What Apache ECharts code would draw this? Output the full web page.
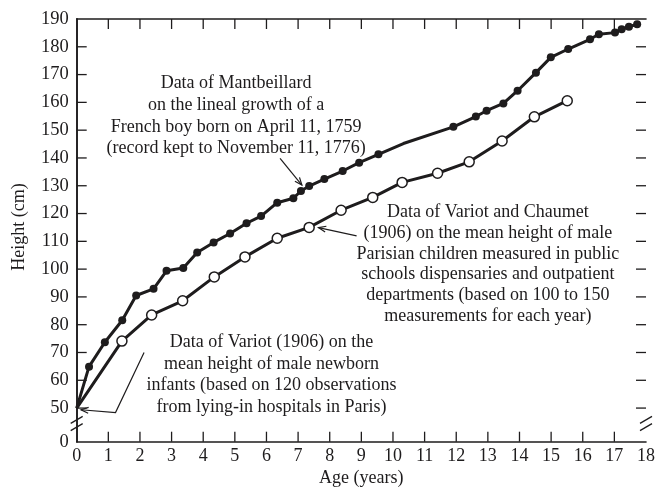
<!DOCTYPE html>
<html>
<head>
<meta charset="utf-8">
<script src="https://cdn.jsdelivr.net/npm/echarts@6/dist/echarts.min.js"></script>
<style>
  html, body { margin: 0; padding: 0; background: #fff; }
  #chart { width: 665px; height: 489px; }
</style>
</head>
<body>
<div id="chart"></div>
<script>
// Mantbeillard's record of his son's height (age in years, height in cm)
const mantAge = [0, 0.39, 0.89, 1.44, 1.88, 2.43, 2.84, 3.37, 3.81, 4.33, 4.85, 5.37, 5.83, 6.34, 6.85, 7.09, 7.35, 7.83, 8.41, 8.93, 9.54, 10.33, 11.91, 12.62, 12.96, 13.49, 13.94, 14.52, 14.99, 15.54, 16.23, 16.51, 17.02, 17.23, 17.46, 17.72];
const mantHeight = [50, 64.9, 73.7, 81.6, 90.5, 92.9, 99.4, 100.4, 106.0, 109.6, 112.8, 116.5, 119.1, 123.9, 125.5, 128.1, 129.9, 132.4, 135.3, 138.3, 141.3, 145.2, 151.2, 154.9, 157.0, 159.6, 164.2, 170.7, 176.2, 179.2, 182.7, 184.5, 185.1, 186.3, 187.2, 188.1];
// vertices of the Mantbeillard line that carry no dot
const mantUnmarked = [0, 21];

// Variot (newborn) and Variot & Chaumet (1906) mean heights
const variotAge = [0, 1.43, 2.37, 3.35, 4.35, 5.32, 6.34, 7.35, 8.36, 9.36, 10.29, 11.41, 12.41, 13.45, 14.47, 15.51];
const variotHeight = [50, 74.1, 83.5, 88.6, 97.2, 104.4, 111.1, 115.0, 121.2, 125.8, 131.2, 134.5, 138.6, 146.1, 154.8, 160.6];
const variotUnmarked = [0];

// axis ticks
const xTicks = [0, 1, 2, 3, 4, 5, 6, 7, 8, 9, 10, 11, 12, 13, 14, 15, 16, 17, 18];
const yTickValues = [50, 60, 70, 80, 90, 100, 110, 120, 130, 140, 150, 160, 170, 180, 190];
const yZeroLabel = '0';

// the broken y scale: "0" sits a short distance below 50
const Y_BOTTOM = 37.9;
const Y_TOP = 190;

const INK = '#1e1c1d';
const FONT = 'Liberation Serif, Times New Roman, serif';
const TICK_LEN = 10;

const chart = echarts.init(document.getElementById('chart'), null, { renderer: 'canvas' });

function pairs(xs, ys, unmarked) {
  return xs.map((x, i) => unmarked.indexOf(i) >= 0
    ? { value: [x, ys[i]], symbol: 'none' }
    : { value: [x, ys[i]] });
}

const lineStyleAxis = { show: true, lineStyle: { color: INK, width: 1.6 } };

chart.setOption({
  animation: false,
  backgroundColor: '#fff',
  grid: { left: 76.7, right: 19, top: 19, bottom: 47.3, containLabel: false },
  xAxis: [
    {
      type: 'value', position: 'bottom', min: 0, max: 18, interval: 1,
      axisLine: lineStyleAxis,
      axisTick: { show: false },
      splitLine: { show: false },
      axisLabel: { customValues: xTicks, margin: 6, color: INK, fontFamily: FONT, fontSize: 18 }
    },
    {
      type: 'value', position: 'top', min: 0, max: 18, interval: 1,
      axisLine: lineStyleAxis,
      axisTick: { show: false },
      splitLine: { show: false },
      axisLabel: { show: false }
    }
  ],
  yAxis: [
    {
      type: 'value', position: 'left', min: Y_BOTTOM, max: Y_TOP,
      axisLine: lineStyleAxis,
      axisTick: { show: false },
      splitLine: { show: false },
      axisLabel: {
        customValues: [Y_BOTTOM].concat(yTickValues),
        formatter: v => (v < 45 ? yZeroLabel : String(Math.round(v))),
        margin: 8, color: INK, fontFamily: FONT, fontSize: 18.5
      }
    },
    {
      type: 'value', position: 'right', min: Y_BOTTOM, max: Y_TOP,
      axisLine: lineStyleAxis,
      axisTick: { show: false },
      splitLine: { show: false },
      axisLabel: { show: false }
    }
  ],
  series: [
    {
      name: 'Variot and Chaumet',
      type: 'line',
      data: pairs(variotAge, variotHeight, variotUnmarked),
      symbol: 'circle', symbolSize: 10, showAllSymbol: true,
      lineStyle: { color: INK, width: 3 },
      itemStyle: { color: '#fff', borderColor: INK, borderWidth: 1.5 },
      z: 3
    },
    {
      name: 'Mantbeillard',
      type: 'line',
      data: pairs(mantAge, mantHeight, mantUnmarked),
      symbol: 'circle', symbolSize: 8, showAllSymbol: true,
      lineStyle: { color: INK, width: 3 },
      itemStyle: { color: INK, borderColor: INK, borderWidth: 0 },
      z: 4
    }
  ]
});

// Annotations, anchored in data coordinates
const toPx = (a, h) => chart.convertToPixel({ xAxisIndex: 0, yAxisIndex: 0 }, [a, h]);

function textBlock(age, height, lines, lineHeight, nudge) {
  const p = toPx(age, height);
  return {
    type: 'text', z: 10,
    style: {
      text: lines.join('\n'), x: p[0], y: p[1] - lineHeight / 2 + nudge,
      align: 'center', verticalAlign: 'top', lineHeight: lineHeight,
      font: '18px ' + FONT, fill: INK
    }
  };
}

function arrow(pts) {
  const p = pts.map(q => toPx(q[0], q[1]));
  const tip = p[p.length - 1], prev = p[p.length - 2];
  const ang = Math.atan2(prev[1] - tip[1], prev[0] - tip[0]);
  const len = 8, spread = 0.38;
  const b1 = [tip[0] + len * Math.cos(ang + spread), tip[1] + len * Math.sin(ang + spread)];
  const b2 = [tip[0] + len * Math.cos(ang - spread), tip[1] + len * Math.sin(ang - spread)];
  return [
    { type: 'polyline', z: 10, shape: { points: p }, style: { stroke: INK, lineWidth: 1.2, fill: null } },
    { type: 'polyline', z: 10, shape: { points: [b1, tip, b2] }, style: { stroke: INK, lineWidth: 1.2, fill: null } }
  ];
}

function breakMark(xVal) {
  const c = toPx(xVal, (Y_BOTTOM + 50) / 2 + 0.5);
  const dx = 6, dy = 3.5, gap = 3.6;
  return [-gap, gap].map(o => ({
    type: 'line', z: 10,
    shape: { x1: c[0] - dx, y1: c[1] + o + dy, x2: c[0] + dx, y2: c[1] + o - dy },
    style: { stroke: INK, lineWidth: 1.3 }
  }));
}

// inward-pointing ticks on all four sides of the frame
function frameTicks() {
  const out = [];
  const tick = (x1, y1, x2, y2) => out.push({
    type: 'line', z: 9,
    shape: { x1: x1, y1: y1, x2: x2, y2: y2 },
    style: { stroke: INK, lineWidth: 1.3 }
  });
  xTicks.slice(1, -1).forEach(a => {
    const b = toPx(a, Y_BOTTOM), t = toPx(a, Y_TOP);
    tick(b[0], b[1], b[0], b[1] - TICK_LEN);
    tick(t[0], t[1], t[0], t[1] + TICK_LEN);
  });
  yTickValues.slice(0, -1).forEach(h => {
    const l = toPx(0, h), r = toPx(18, h);
    tick(l[0], l[1], l[0] + TICK_LEN, l[1]);
    tick(r[0], r[1], r[0] - TICK_LEN, r[1]);
  });
  return out;
}

const graphics = [].concat(
  frameTicks(),
  textBlock(5.04, 167.5, [
    'Data of Mantbeillard',
    'on the lineal growth of a',
    'French boy born on April 11, 1759',
    '(record kept to November 11, 1776)'
  ], 21.7, 2),
  textBlock(13.0, 120.9, [
    'Data of Variot and Chaumet',
    '(1906) on the mean height of male',
    'Parisian children measured in public',
    'schools dispensaries and outpatient',
    'departments (based on 100 to 150',
    'measurements for each year)'
  ], 20.9, 1),
  textBlock(6.16, 73.9, [
    'Data of Variot (1906) on the',
    'mean height of male newborn',
    'infants (based on 120 observations',
    'from lying-in hospitals in Paris)'
  ], 21.5, 1),
  arrow([[6.43, 139.85], [7.12, 130.25]]),
  arrow([[8.85, 111.97], [7.645, 114.95]]),
  arrow([[2.13, 69.97], [1.227, 48.38], [0.136, 49.39]]),
  breakMark(0),
  breakMark(18),
  [
    {
      type: 'text', z: 10,
      style: { text: 'Age (years)', x: toPx(9, Y_BOTTOM)[0], y: 478, align: 'center', verticalAlign: 'middle', font: '18px ' + FONT, fill: INK }
    },
    {
      type: 'text', z: 10, x: 19, y: 227, rotation: Math.PI / 2,
      style: { text: 'Height (cm)', x: 0, y: 0, align: 'center', verticalAlign: 'middle', font: '18px ' + FONT, fill: INK }
    }
  ]
);

chart.setOption({ graphic: { elements: graphics } });
</script>
</body>
</html>
